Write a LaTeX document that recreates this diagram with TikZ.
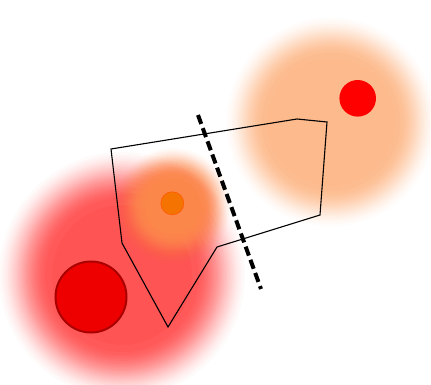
\documentclass[tikz,border=0pt]{standalone}

% ぼかし: 不透明度を変えた同心円を重ねる
% #1 色, #2 中心, #3 芯の半径, #4 外側の半径
\newcommand\glowdisk[4]{%
  \foreach \i in {1,...,30} {%
    \pgfmathsetmacro\glowu{acos(1-2*\i/30)/180}%
    \pgfmathsetmacro\glowr{#4-\glowu*(#4-#3)}%
    \pgfmathsetmacro\glowa{1/(31-\i)}%
    \fill[#1, opacity=\glowa] #2 circle (\glowr pt);
  }%
}

\definecolor{glowred}{RGB}{255,84,84}
\definecolor{glowpeach}{RGB}{253,186,140}
\definecolor{glowamber}{RGB}{252,135,75}
\definecolor{dotred}{RGB}{238,0,0}
\definecolor{dotrim}{RGB}{170,0,0}
\definecolor{dotorange}{RGB}{245,115,0}

\begin{document}
\begin{tikzpicture}[x=1pt, y=-1pt]
  % 0. 画像の範囲
  \useasboundingbox (0,0) rectangle (431,385);

  % 1. ぼかし (3 つの光)
  \glowdisk{glowred}{(122,275)}{70}{130}
  \glowdisk{glowpeach}{(331,122)}{64}{110}
  \glowdisk{glowamber}{(173,206)}{28}{62}

  % 2. 多角形の頂点
  \coordinate (P1) at (111,149);
  \coordinate (P2) at (297,119);
  \coordinate (P3) at (327,122);
  \coordinate (P4) at (320,215);
  \coordinate (P5) at (217,247);
  \coordinate (P6) at (168,327);
  \coordinate (P7) at (122,243);
  \draw[line width=1.1pt, line join=miter] (P1) -- (P2) -- (P3) -- (P4) -- (P5) -- (P6) -- (P7) -- cycle;

  % 3. 破線 (境界)
  \coordinate (L1) at (198,115);
  \coordinate (L2) at (261,289);
  \draw[line width=4pt, dash pattern=on 9.5pt off 4.5pt] (L1) -- (L2);

  % 4. 点
  \filldraw[fill=dotred, draw=dotrim, line width=2pt] (91,297) circle (35.5pt);       % 大きい赤
  \filldraw[fill=dotorange, draw=orange!70!red, line width=0.6pt] (172.3,203.3) circle (11.5pt); % 橙
  \fill[red] (357.7,98.3) circle (18.3pt);                                           % 右上の赤

\end{tikzpicture}
\end{document}
